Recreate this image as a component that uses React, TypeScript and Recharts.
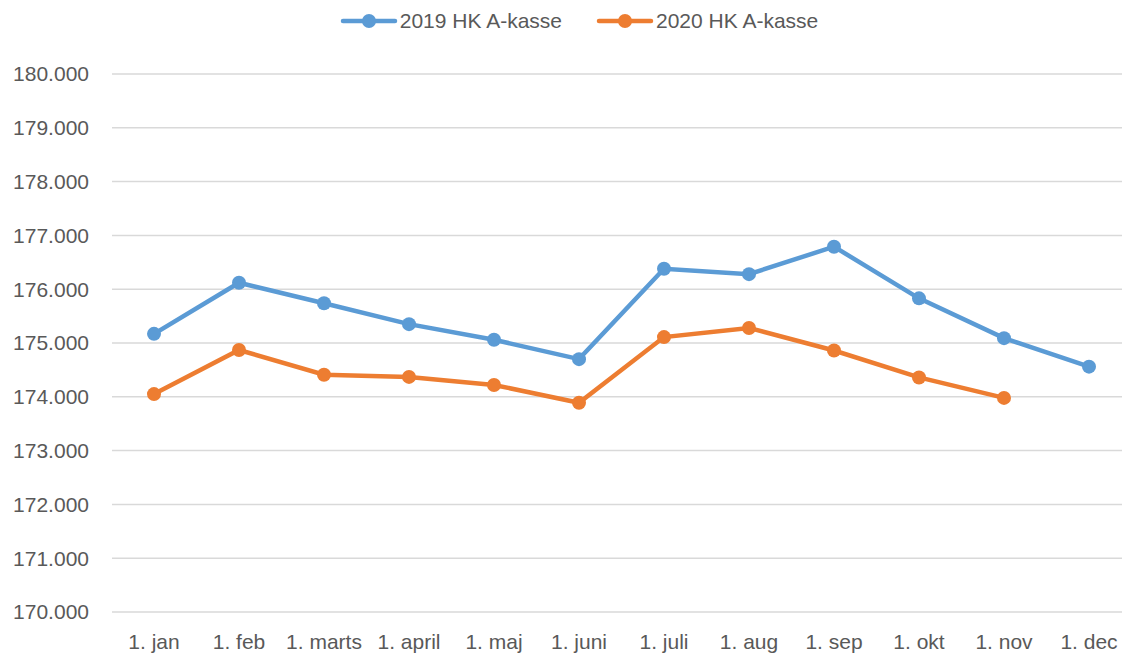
import React from 'react';
import { LineChart, Line, XAxis, YAxis, CartesianGrid } from 'recharts';

const MONTHS = ['1. jan', '1. feb', '1. marts', '1. april', '1. maj', '1. juni', '1. juli', '1. aug', '1. sep', '1. okt', '1. nov', '1. dec'];
const SERIES_2019 = [175170, 176120, 175740, 175350, 175060, 174700, 176380, 176280, 176790, 175830, 175090, 174560];
const SERIES_2020 = [174050, 174870, 174410, 174370, 174220, 173890, 175110, 175280, 174860, 174360, 173980, null];
const Y_TICKS = [170000, 171000, 172000, 173000, 174000, 175000, 176000, 177000, 178000, 179000, 180000];

const BLUE = '#5B9BD5';
const ORANGE = '#ED7D31';
const TEXT = '#595959';
const FONT = '"Liberation Sans", Arial, sans-serif';

const data = MONTHS.map((m, i) => ({ month: m, a2019: SERIES_2019[i], a2020: SERIES_2020[i] }));

const formatTick = (v: number) => v.toLocaleString('da-DK');

const LegendBox = () => {
  const items = [
    { name: '2019 HK A-kasse', color: BLUE },
    { name: '2020 HK A-kasse', color: ORANGE },
  ];
  return (
    <div style={{ position: 'absolute', top: 9, left: 0, width: 1122, display: 'flex', justifyContent: 'center', gap: 34, fontFamily: FONT, fontSize: 21, color: TEXT, paddingLeft: 36, boxSizing: 'border-box' }}>
      {items.map((it) => (
        <div key={it.name} style={{ display: 'flex', alignItems: 'center' }}>
          <svg width={58} height={16} style={{ marginRight: 2 }}>
            <line x1={3} y1={8} x2={55} y2={8} stroke={it.color} strokeWidth={4.5} strokeLinecap="round" />
            <circle cx={29} cy={8} r={7} fill={it.color} />
          </svg>
          <span>{it.name}</span>
        </div>
      ))}
    </div>
  );
};

export default function App() {
  return (
    <div style={{ position: 'absolute', left: 0, top: 0, width: 1122, height: 659, background: '#fff' }}>
      <LineChart width={1122} height={659} data={data} margin={{ top: 74, right: 0, left: 0, bottom: 0 }}>
        <CartesianGrid vertical={false} stroke="#D9D9D9" strokeWidth={1.5} />
        <XAxis
          dataKey="month"
          axisLine={false}
          tickLine={false}
          padding={{ left: 42, right: 33 }}
          tickMargin={16}
          interval={0}
          height={47}
          tick={{ fill: TEXT, fontSize: 21, fontFamily: FONT }}
        />
        <YAxis
          domain={[170000, 180000]}
          ticks={Y_TICKS}
          tickFormatter={formatTick}
          axisLine={false}
          tickLine={false}
          width={112}
          tickMargin={17}
          interval={0}
          tick={{ fill: TEXT, fontSize: 21, fontFamily: FONT }}
        />
        <Line
          dataKey="a2019"
          name="2019 HK A-kasse"
          stroke={BLUE}
          strokeWidth={4.5}
          dot={{ r: 7, fill: BLUE, stroke: BLUE, strokeWidth: 0 }}
          isAnimationActive={false}
        />
        <Line
          dataKey="a2020"
          name="2020 HK A-kasse"
          stroke={ORANGE}
          strokeWidth={4.5}
          dot={{ r: 7, fill: ORANGE, stroke: ORANGE, strokeWidth: 0 }}
          isAnimationActive={false}
        />
      </LineChart>
      <LegendBox />
    </div>
  );
}
